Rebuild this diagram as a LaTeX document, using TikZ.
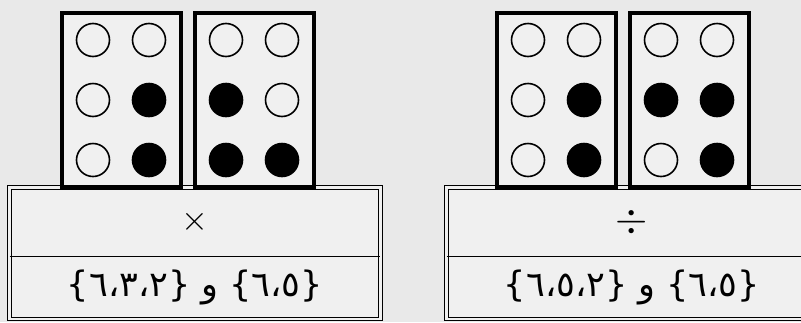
\documentclass[tikz,border=0pt]{standalone}
\usepackage{fontspec}
\usetikzlibrary{positioning, calc}
\newfontfamily\arabicfont[Script=Arabic]{DejaVu Sans}
\TeXXeTstate=1
\definecolor{paper}{gray}{0.915}
\definecolor{sheet}{gray}{0.94}

\begin{document}
\begin{tikzpicture}[x=0.5pt, y=-0.5pt,
    cellbox/.style={draw, line width=2pt, fill=sheet, minimum width=59.5pt, minimum height=87pt, inner sep=0pt},
    dot0/.style={circle, draw, line width=0.8pt, minimum size=16.5pt, inner sep=0pt},
    dot1/.style={dot0, fill=black},
    rowbox/.style={fill=sheet, minimum width=185pt, inner sep=0pt},
    settext/.style={font=\arabicfont\fontsize{17.5}{21}\selectfont},
    frame/.style={draw, line width=0.5pt, double=sheet, double distance=1.2pt}]

    % paper and page size
    \fill[paper] (0,0) rectangle (801,322);
    \useasboundingbox (0,0) rectangle (801,322);

    % table rows under the cells
    \node[rowbox, minimum height=34pt] (mulop) at (195,222) {\LARGE$\times$};
    \node[rowbox, settext, minimum height=31pt, below=0pt of mulop] (mulset)
        {\beginR\{٦،٥\} و \{٦،٣،٢\}\endR};
    \node[rowbox, minimum height=34pt] (divop) at (632,222) {\huge$\div$};
    \node[rowbox, settext, minimum height=31pt, below=0pt of divop] (divset)
        {\beginR\{٦،٥\} و \{٦،٥،٢\}\endR};

    % frames of the two tables
    \draw[frame] (mulop.north west) rectangle (mulset.south east);
    \draw[frame] (divop.north west) rectangle (divset.south east);
    \draw[line width=0.8pt] (mulop.south west) -- (mulop.south east);
    \draw[line width=0.8pt] (divop.south west) -- (divop.south east);

    % braille cells
    \node[cellbox] (c1) at (121,100) {};
    \node[cellbox, right=5pt of c1] (c2) {};
    \node[cellbox] (c3) at (556,100) {};
    \node[cellbox, right=5pt of c3] (c4) {};

    % dots 1-3 left column, 4-6 right column
    \foreach \cell/\pat in {c1/{1/0,2/0,3/0,4/0,5/1,6/1},
                            c2/{1/0,2/1,3/1,4/0,5/0,6/1},
                            c3/{1/0,2/0,3/0,4/0,5/1,6/1},
                            c4/{1/0,2/1,3/0,4/0,5/1,6/1}} {
        \foreach \d/\s in \pat {
            \pgfmathsetmacro{\dx}{\d>3 ? 28 : -28}
            \pgfmathsetmacro{\dy}{(mod(\d-1,3)-1)*60}
            \node[dot\s] (\cell-\d) at ($(\cell)+(\dx,\dy)$) {};
        }
    }

\end{tikzpicture}
\end{document}
